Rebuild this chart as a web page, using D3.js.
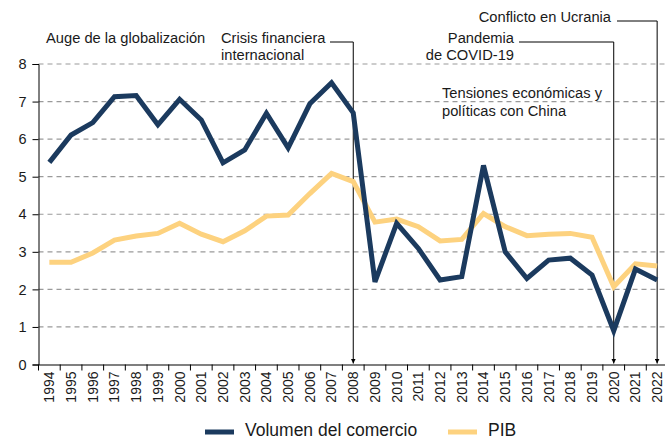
<!DOCTYPE html>
<html lang="es">
<head>
    <meta charset="UTF-8">
    <title>Volumen del comercio y PIB</title>
    <script src="https://d3js.org/d3.v7.min.js"></script>
    <style>
        body {
            margin: 0;
            padding: 0;
            background-color: #ffffff;
            font-family: "Liberation Sans", Arial, sans-serif;
        }
        svg text {
            fill: #1a1a1a;
        }
    </style>
</head>
<body>
    <svg id="chart"></svg>

    <script>
        const years = d3.range(1994, 2023).map(String);
        const volumen = [5.38, 6.11, 6.44, 7.13, 7.16, 6.38, 7.06, 6.51, 5.37, 5.71,
                         6.69, 5.77, 6.94, 7.50, 6.70, 2.20, 3.76, 3.09, 2.25, 2.34,
                         5.30, 3.00, 2.29, 2.78, 2.83, 2.38, 0.90, 2.54, 2.25];
        const pib = [2.72, 2.72, 2.97, 3.31, 3.42, 3.49, 3.76, 3.47, 3.27, 3.56,
                     3.95, 3.98, 4.55, 5.09, 4.87, 3.79, 3.87, 3.67, 3.29, 3.33,
                     4.02, 3.67, 3.43, 3.47, 3.49, 3.39, 2.07, 2.68, 2.62];
        const yTicks = [0, 1, 2, 3, 4, 5, 6, 7, 8];
        const events = [
            { year: "2008", lines: ["Crisis financiera", "internacional"] },
            { year: "2020", lines: ["Pandemia", "de COVID-19"] },
            { year: "2022", lines: ["Conflicto en Ucrania"] }
        ];

        const width = 665;
        const height = 440;
        const margin = { top: 64, right: -3, bottom: 76, left: 38.5 };
        const noteSize = "14.7px";

        const svg = d3.select("#chart")
            .attr("width", width)
            .attr("height", height);

        svg.append("defs").append("marker")
            .attr("id", "arrow")
            .attr("viewBox", "0 0 6 6")
            .attr("refX", 6)
            .attr("refY", 3)
            .attr("markerWidth", 5)
            .attr("markerHeight", 5)
            .attr("orient", "auto")
            .append("path")
            .attr("d", "M0,0 L6,3 L0,6 Z")
            .attr("fill", "#000");

        const x = d3.scaleBand()
            .domain(years)
            .range([margin.left, width - margin.right]);

        const y = d3.scaleLinear()
            .domain([0, 8])
            .range([height - margin.bottom + 0.5, margin.top]);

        // grid
        svg.append("g")
            .selectAll("line")
            .data(yTicks.filter(d => d > 0))
            .join("line")
            .attr("x1", margin.left)
            .attr("x2", width)
            .attr("y1", d => y(d))
            .attr("y2", d => y(d))
            .attr("stroke", "#9a9a9a")
            .attr("stroke-width", 1.2)
            .attr("stroke-dasharray", "5,4");

        // y axis
        const yAxis = svg.append("g")
            .attr("transform", `translate(${margin.left},0)`)
            .call(d3.axisLeft(y).tickValues(yTicks).tickSize(6).tickFormat(d3.format("d")));
        yAxis.select(".domain").attr("stroke", "#000");
        yAxis.selectAll(".tick line").attr("stroke", "#000");
        yAxis.selectAll("text")
            .attr("font-size", "14.5px")
            .attr("font-family", "Liberation Sans, Arial, sans-serif")
            .attr("x", -12)
            .style("fill", "#1a1a1a");

        // x axis
        const xAxis = svg.append("g")
            .attr("transform", `translate(0,${y(0)})`)
            .call(d3.axisBottom(x).tickSize(0));
        xAxis.select(".domain").attr("stroke", "#000").attr("stroke-width", 1.2);
        xAxis.selectAll("text")
            .attr("font-size", "14px")
            .attr("font-family", "Liberation Sans, Arial, sans-serif")
            .attr("transform", "rotate(-90)")
            .attr("text-anchor", "end")
            .attr("x", -7)
            .attr("y", 0)
            .attr("dy", "0.35em")
            .style("fill", "#1a1a1a");

        // ticks between categories
        svg.append("g")
            .selectAll("line")
            .data(years)
            .join("line")
            .attr("x1", d => x(d))
            .attr("x2", d => x(d))
            .attr("y1", y(0))
            .attr("y2", y(0) + 6)
            .attr("stroke", "#000");

        const cx = d => x(d) + x.bandwidth() / 2;

        // event lines
        const eventLines = svg.append("g");
        const topY = { "2008": 42, "2020": 42, "2022": 21 };
        const startX = { "2008": 330, "2020": 519, "2022": 617 };
        events.forEach(ev => {
            const ex = cx(ev.year);
            eventLines.append("path")
                .attr("d", `M${startX[ev.year]},${topY[ev.year]} H${ex} V${y(0) - 1}`)
                .attr("fill", "none")
                .attr("stroke", "#000")
                .attr("stroke-width", 1)
                .attr("marker-end", "url(#arrow)");
        });

        const line = d3.line()
            .x((d, i) => cx(years[i]))
            .y(d => y(d));

        svg.append("path")
            .datum(pib)
            .attr("fill", "none")
            .attr("stroke", "#fdd27f")
            .attr("stroke-width", 5)
            .attr("stroke-linejoin", "miter")
            .attr("d", line);

        svg.append("path")
            .datum(volumen)
            .attr("fill", "none")
            .attr("stroke", "#1b3a5e")
            .attr("stroke-width", 5)
            .attr("stroke-linejoin", "miter")
            .attr("d", line);

        // annotations
        const notes = svg.append("g")
            .attr("font-size", noteSize)
            .attr("font-family", "Liberation Sans, Arial, sans-serif");

        notes.append("text").attr("x", 46).attr("y", 43).text("Auge de la globalización");

        notes.append("text").attr("x", 221).attr("y", 43)
            .selectAll("tspan").data(events[0].lines).join("tspan")
            .attr("x", 221).attr("dy", (d, i) => i ? 17 : 0).text(d => d);

        notes.append("text").attr("x", 514).attr("y", 43).attr("text-anchor", "end")
            .selectAll("tspan").data(events[1].lines).join("tspan")
            .attr("x", 514).attr("dy", (d, i) => i ? 17 : 0).text(d => d);

        notes.append("text").attr("x", 611).attr("y", 22).attr("text-anchor", "end")
            .text(events[2].lines[0]);

        notes.append("text").attr("x", 442).attr("y", 98)
            .selectAll("tspan").data(["Tensiones económicas y", "políticas con China"]).join("tspan")
            .attr("x", 442).attr("dy", (d, i) => i ? 18 : 0).text(d => d);

        // legend
        const legend = svg.append("g")
            .attr("font-size", "17.5px")
            .attr("font-family", "Liberation Sans, Arial, sans-serif");
        const legendItems = [
            { label: "Volumen del comercio", color: "#1b3a5e", x0: 205 },
            { label: "PIB", color: "#fdd27f", x0: 448 }
        ];
        legendItems.forEach(it => {
            legend.append("line")
                .attr("x1", it.x0).attr("x2", it.x0 + 29)
                .attr("y1", 432).attr("y2", 432)
                .attr("stroke", it.color).attr("stroke-width", 5);
            legend.append("text")
                .attr("x", it.x0 + 40).attr("y", 436)
                .text(it.label);
        });
    </script>
</body>
</html>
